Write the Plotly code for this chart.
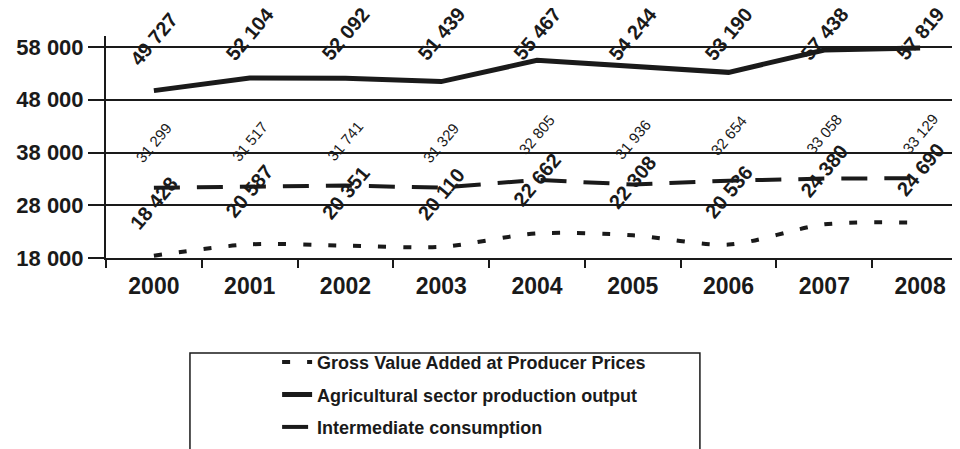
import numpy as np
import plotly.graph_objects as go

years = ["2000", "2001", "2002", "2003", "2004", "2005", "2006", "2007", "2008"]
gva = [18428, 20587, 20351, 20110, 22662, 22308, 20536, 24380, 24690]
output = [49727, 52104, 52092, 51439, 55467, 54244, 53190, 57438, 57819]
intermediate = [31299, 31517, 31741, 31329, 32805, 31936, 32654, 33058, 33129]
y_ticks = [18000, 28000, 38000, 48000, 58000]

names = ["Gross Value Added at Producer Prices",
         "Agricultural sector production output",
         "Intermediate consumption"]

FONT = "Liberation Sans, Arial, sans-serif"
INK = "#1a1a1a"
ANGLE = -50


def fmt(v):
    return f"{v:,}".replace(",", " ")


fig = go.Figure()
fig.add_trace(go.Scatter(x=years, y=gva, mode="lines", name=names[0],
                         legendgroup="a",
                         line=dict(color=INK, width=4, dash="8px,17px",
                                   shape="spline", smoothing=0.8)))
fig.add_trace(go.Scatter(x=years, y=output, mode="lines", name=names[1],
                         legendgroup="b",
                         line=dict(color=INK, width=5)))
fig.add_trace(go.Scatter(x=years, y=intermediate, mode="lines", name=names[2],
                         legendgroup="c",
                         line=dict(color=INK, width=4, dash="26px,17px")))

annotations = []
# output labels sit above their points but are kept inside the chart at the top
out_label_y = np.minimum(np.array(output) + 8720, 59330)
for i, (v, ly) in enumerate(zip(output, out_label_y)):
    annotations.append(dict(x=i, y=float(ly), text=fmt(v), showarrow=False, yshift=6,
                            textangle=ANGLE, xanchor="center", yanchor="middle",
                            font=dict(family=FONT, size=20, color=INK, weight="bold")))
for i, v in enumerate(intermediate):
    annotations.append(dict(x=i, y=v, text=fmt(v), showarrow=False, yshift=45,
                            textangle=ANGLE, xanchor="center", yanchor="middle",
                            font=dict(family=FONT, size=15, color=INK)))
for i, v in enumerate(gva):
    annotations.append(dict(x=i, y=v, text=fmt(v), showarrow=False, yshift=53,
                            textangle=ANGLE, xanchor="center", yanchor="middle",
                            font=dict(family=FONT, size=20, color=INK, weight="bold")))

fig.update_layout(
    width=960, height=449,
    margin=dict(l=98, r=0, t=28, b=199),
    paper_bgcolor="white", plot_bgcolor="white",
    font=dict(family=FONT, color=INK),
    separators=". ",
    annotations=annotations,
    showlegend=True,
    legend=dict(x=0.1985, y=-0.387, xanchor="left", yanchor="top",
                font=dict(family=FONT, size=18, color=INK, weight="bold"),
                tracegroupgap=6, borderwidth=0, bgcolor="rgba(0,0,0,0)"),
    shapes=[dict(type="rect", xref="paper", yref="paper",
                 x0=0.0974, x1=0.689, y0=-0.428, y1=-0.882,
                 line=dict(color=INK, width=1.5))],
)
fig.update_xaxes(type="category", categoryarray=years, range=[-0.5, len(years) - 0.5],
                 showline=True, linecolor=INK, linewidth=2,
                 ticks="outside", tickson="boundaries", ticklen=8, tickwidth=2,
                 tickcolor=INK, showgrid=False, tickangle=0, ticklabelstandoff=6,
                 tickfont=dict(family=FONT, size=23, color=INK, weight="bold"))
fig.update_yaxes(range=[18000, 60085], tickvals=y_ticks, tickformat=",d",
                 showline=True, linecolor=INK, linewidth=2,
                 ticks="outside", ticklen=16, tickwidth=2, tickcolor=INK,
                 showgrid=True, gridcolor=INK, gridwidth=2, zeroline=False,
                 tickfont=dict(family=FONT, size=22, color=INK, weight="bold"))

fig.write_html("out.html")
